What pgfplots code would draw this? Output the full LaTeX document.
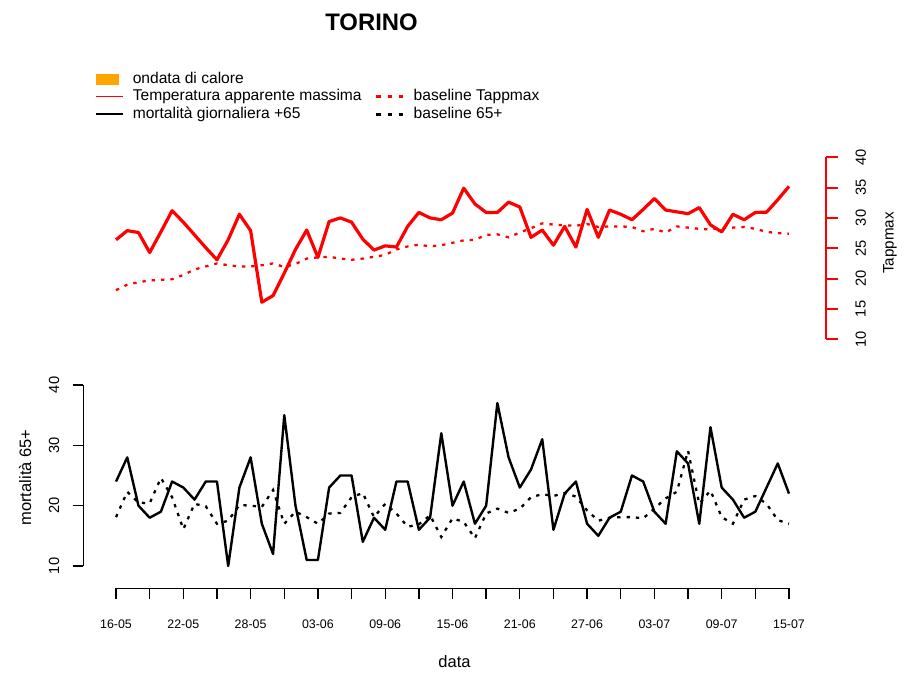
\documentclass[border=0pt]{standalone}
\usepackage{pgfplots}
\pgfplotsset{compat=1.18}
\usepackage{pgfplotstable}
\usepackage{fontspec}
\setmainfont{Liberation Sans}

% day 0 = 16-05
\pgfplotstableread{
day tapp tbase mort mbase
0 26.4 18.1 24 18.1
1 27.9 19.0 28 22.3
2 27.6 19.4 20 20.5
3 24.3 19.7 18 20.4
4 27.7 19.8 19 24.6
5 31.2 19.9 24 21.4
6 29.3 20.6 23 16.1
7 27.2 21.5 21 20.3
8 25.1 22.0 24 19.9
9 23.1 22.5 24 17.0
10 26.4 22.2 10 17.5
11 30.6 22.0 23 20.1
12 27.9 22.0 28 20.0
13 16.1 22.2 17 19.8
14 17.2 22.5 12 22.6
15 20.9 21.9 35 17.0
16 24.8 22.4 20 19.0
17 28.0 23.3 11 18.1
18 23.5 23.5 11 17.0
19 29.4 23.6 23 18.7
20 30.0 23.3 25 18.8
21 29.3 23.1 25 21.4
22 26.5 23.3 14 22.1
23 24.7 23.6 18 18.1
24 25.4 23.9 16 20.3
25 25.2 24.8 24 18.7
26 28.6 25.3 24 16.5
27 30.9 25.6 16 16.9
28 30.0 25.3 18 18.4
29 29.7 25.5 32 14.8
30 30.8 25.9 20 17.9
31 34.9 26.3 24 17.3
32 32.3 26.4 17 14.6
33 30.9 27.2 20 18.7
34 30.9 27.3 37 19.5
35 32.6 26.8 28 18.8
36 31.8 27.6 23 19.5
37 26.8 28.3 26 21.4
38 28.0 29.1 31 21.9
39 25.5 28.9 16 21.6
40 28.6 28.8 22 22.1
41 25.2 28.7 24 21.5
42 31.4 29.0 17 19.2
43 26.8 28.5 15 17.5
44 31.3 28.6 18 18.0
45 30.6 28.6 19 18.1
46 29.7 28.5 25 18.1
47 31.4 27.8 24 17.9
48 33.2 28.2 19 19.5
49 31.3 27.6 17 21.2
50 31.0 28.6 29 22.3
51 30.7 28.4 27 29.1
52 31.7 28.2 17 20.3
53 28.85 28.1 33 22.5
54 27.7 28.3 23 18.1
55 30.6 28.4 21 17.0
56 29.7 28.5 18 21.0
57 30.9 28.2 19 21.6
58 30.95 27.7 23 20.3
59 33.0 27.5 27 17.6
60 35.2 27.4 22 17.0
}\torino

\definecolor{rorange}{HTML}{FFA500}

\begin{document}
\begin{tikzpicture}
\path[use as bounding box] (0pt,0pt) rectangle (678pt,504.75pt);

% top panel: apparent temperature
\begin{axis}[
  at={(62.5pt,250.3pt)}, anchor=south west,
  scale only axis, width=557pt, height=136.5pt,
  xmin=-2.915, xmax=63.3, ymin=10, ymax=40,
  axis x line=none, axis y line=right,
  y axis line style={red, line width=1.6pt, -},
  ytick={10,15,...,40},
  tick align=outside, major tick length=9pt,
  ytick style={red, line width=1.6pt},
  yticklabel style={rotate=90, anchor=north, inner sep=0pt, font=\fontsize{11}{13}\selectfont},
  yticklabel shift=13pt,
  /pgf/number format/assume math mode=true,
  ylabel={Tappmax},
  every axis y label/.style={at={(1.0862,0.529)}, rotate=90, anchor=center, font=\fontsize{11.4}{13}\selectfont},
  title={TORINO},
  every axis title/.style={at={(0.388,1.743)}, anchor=center, font=\bfseries\fontsize{17.9}{20}\selectfont},
  clip=false,
  legend columns=2,
  legend cell align=left,
  legend image code/.code={\draw[#1] (0pt,0pt) -- (20pt,0pt);},
  legend style={at={(0.0158,1.478)}, anchor=north west, draw=none, fill=none, inner sep=0pt,
    font=\fontsize{11.7}{14}\selectfont, row sep=0pt,
    nodes={inner sep=0pt, text height=9.5pt, text depth=3.6pt},
    /tikz/every odd column/.append style={column sep=7pt},
    /tikz/every even column/.append style={column sep=10pt}},
]
\addlegendimage{legend image code/.code={\fill[rorange] (0pt,-4pt) rectangle (17pt,4pt);}}
\addlegendentry{ondata di calore}
\addlegendimage{empty legend}
\addlegendentry{}
\addlegendimage{red, line width=1.1pt}
\addlegendentry{Temperatura apparente massima}
\addlegendimage{red, line width=2pt, dash pattern=on 3.5pt off 5pt}
\addlegendentry{baseline Tappmax}
\addlegendimage{black, line width=1.1pt}
\addlegendentry{mortalità giornaliera +65}
\addlegendimage{black, line width=2pt, dash pattern=on 3.5pt off 5pt}
\addlegendentry{baseline 65+}

\addplot[forget plot, red, line width=2.4pt, line join=round] table[x=day, y=tapp]{\torino};
\addplot[forget plot, red, line width=1.7pt, dash pattern=on 2.5pt off 4.5pt] table[x=day, y=tbase]{\torino};
\end{axis}

% bottom panel: mortality 65+
\begin{axis}[
  at={(62.5pt,80.25pt)}, anchor=south west,
  scale only axis, width=557pt, height=135.75pt,
  xmin=-2.915, xmax=63.3, ymin=10, ymax=40,
  axis x line=none, axis y line=left,
  y axis line style={black, line width=1pt, -},
  ytick={10,20,30,40},
  tick align=outside, major tick length=8pt,
  ytick style={black, line width=1pt},
  yticklabel style={rotate=90, anchor=south, inner sep=0pt, font=\fontsize{11}{13}\selectfont},
  yticklabel shift=9.8pt,
  /pgf/number format/assume math mode=true,
  ylabel={mortalità 65+},
  every axis y label/.style={at={(-0.0785,0.489)}, rotate=90, anchor=center, font=\fontsize{12.4}{14}\selectfont},
  clip=false,
]
\addplot[black, line width=1.8pt, line join=round] table[x=day, y=mort]{\torino};
\addplot[black, line width=1.7pt, dash pattern=on 2.5pt off 4.5pt] table[x=day, y=mbase]{\torino};
\end{axis}

% date axis
\begin{axis}[
  at={(87pt,63.4pt)}, anchor=south west,
  scale only axis, width=504.75pt, height=10pt,
  xmin=0, xmax=60, ymin=0, ymax=1,
  axis y line=none, axis x line=bottom,
  x axis line style={black, line width=1pt, -},
  xtick={0,3,...,60},
  xticklabels={16-05,,22-05,,28-05,,03-06,,09-06,,15-06,,21-06,,27-06,,03-07,,09-07,,15-07},
  tick align=outside, major tick length=8pt,
  xtick style={black, line width=1pt},
  xticklabel style={anchor=north, inner sep=0pt, font=\fontsize{9.3}{11}\selectfont},
  xticklabel shift=15pt,
  xlabel={data},
  every axis x label/.style={at={(0.503,-5.475)}, anchor=center, font=\fontsize{12.4}{14}\selectfont},
]
\end{axis}
\end{tikzpicture}
\end{document}
